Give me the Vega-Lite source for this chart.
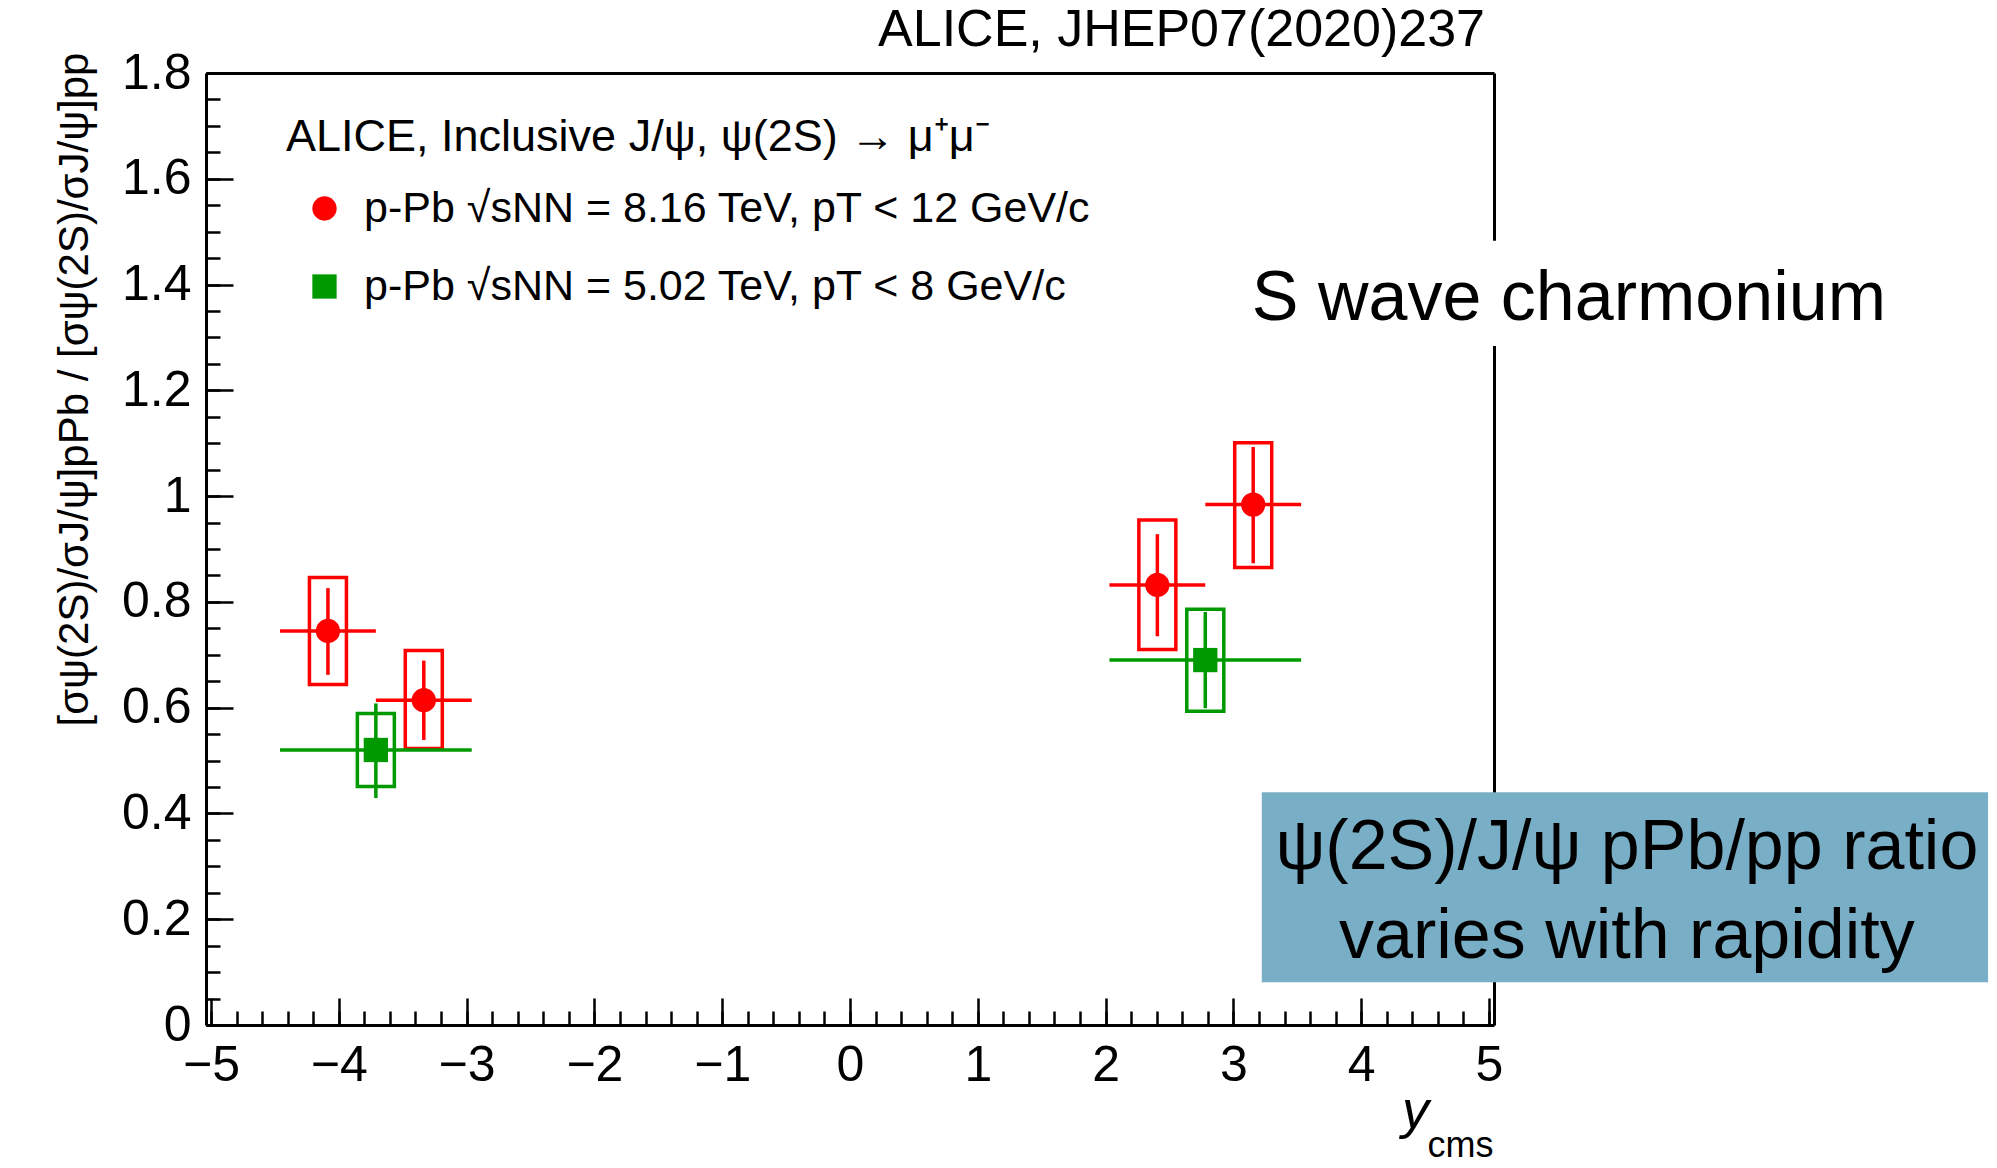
{
  "$schema": "https://vega.github.io/schema/vega-lite/v6.json",
  "width": 1288,
  "height": 952,
  "autosize": {"type": "none"},
  "padding": {"left": 206, "top": 73, "right": 503, "bottom": 143},
  "background": "white",
  "config": {
    "font": "Liberation Sans",
    "view": {"stroke": null},
    "axis": {"zindex": 0, "grid": false}
  },
  "datasets": {
    "ratio": [
      {"series": "p-Pb √sNN = 8.16 TeV, pT < 12 GeV/c", "ycms": -4.085, "ylo": -4.46, "yhi": -3.71, "ratio": 0.745, "statlo": 0.662, "stathi": 0.826, "syslo": 0.644, "syshi": 0.846},
      {"series": "p-Pb √sNN = 8.16 TeV, pT < 12 GeV/c", "ycms": -3.335, "ylo": -3.71, "yhi": -2.96, "ratio": 0.614, "statlo": 0.539, "stathi": 0.689, "syslo": 0.523, "syshi": 0.708},
      {"series": "p-Pb √sNN = 8.16 TeV, pT < 12 GeV/c", "ycms": 2.405, "ylo": 2.03, "yhi": 2.78, "ratio": 0.832, "statlo": 0.735, "stathi": 0.928, "syslo": 0.71, "syshi": 0.955},
      {"series": "p-Pb √sNN = 8.16 TeV, pT < 12 GeV/c", "ycms": 3.155, "ylo": 2.78, "yhi": 3.53, "ratio": 0.984, "statlo": 0.873, "stathi": 1.093, "syslo": 0.865, "syshi": 1.101},
      {"series": "p-Pb √sNN = 5.02 TeV, pT < 8 GeV/c", "ycms": -3.71, "ylo": -4.46, "yhi": -2.96, "ratio": 0.52, "statlo": 0.429, "stathi": 0.608, "syslo": 0.451, "syshi": 0.589},
      {"series": "p-Pb √sNN = 5.02 TeV, pT < 8 GeV/c", "ycms": 2.78, "ylo": 2.03, "yhi": 3.53, "ratio": 0.69, "statlo": 0.599, "stathi": 0.781, "syslo": 0.593, "syshi": 0.786}
    ],
    "boxes": [
      {"role": "headline", "x0": 3.0, "x1": 9.9, "y0": 1.284, "y1": 1.483},
      {"role": "callout", "x0": 3.222, "x1": 8.905, "y0": 0.081, "y1": 0.44}
    ],
    "notes": [
      {"role": "header", "text": "ALICE, JHEP07(2020)237", "ycms": 4.969, "ratio": 1.851},
      {"role": "headline", "text": "S wave charmonium", "ycms": 3.144, "ratio": 1.333},
      {"role": "callout", "text": "ψ(2S)/J/ψ pPb/pp ratio", "ycms": 6.079, "ratio": 0.295},
      {"role": "callout", "text": "varies with rapidity", "ycms": 6.079, "ratio": 0.127}
    ]
  },
  "layer": [
    {
      "data": {"name": "boxes"},
      "transform": [{"filter": "datum.role === 'headline'"}],
      "mark": {"type": "rect", "fill": "white", "stroke": null},
      "encoding": {
        "x": {"field": "x0", "type": "quantitative", "scale": {"domain": [-5, 5], "nice": false, "zero": false}, "axis": null},
        "x2": {"field": "x1"},
        "y": {"field": "y0", "type": "quantitative", "scale": {"domain": [0, 1.8], "nice": false, "zero": false}, "axis": null},
        "y2": {"field": "y1"}
      }
    },
    {
      "data": {"name": "boxes"},
      "transform": [{"filter": "datum.role === 'callout'"}],
      "mark": {"type": "rect", "fill": "#79afc6", "stroke": null},
      "encoding": {
        "x": {"field": "x0", "type": "quantitative", "scale": {"domain": [-5, 5], "nice": false, "zero": false}, "axis": null},
        "x2": {"field": "x1"},
        "y": {"field": "y0", "type": "quantitative", "scale": {"domain": [0, 1.8], "nice": false, "zero": false}, "axis": null},
        "y2": {"field": "y1"}
      }
    },
    {
      "mark": {"type": "rule", "color": "black", "strokeWidth": 3.5, "strokeDash": [9, 7.6]},
      "encoding": {
        "y": {"datum": 1, "type": "quantitative", "scale": {"domain": [0, 1.8], "nice": false, "zero": false}, "axis": null}
      }
    },
    {
      "data": {"name": "ratio"},
      "transform": [{"filter": "datum.series === 'p-Pb √sNN = 8.16 TeV, pT < 12 GeV/c'"}],
      "mark": {"type": "bar", "filled": false, "fill": null, "stroke": "#ff0000", "strokeWidth": 3.5, "width": 37},
      "encoding": {
        "x": {"field": "ycms", "type": "quantitative", "scale": {"domain": [-5, 5], "nice": false, "zero": false},
          "axis": {"orient": "top", "domain": true, "domainColor": "black", "domainWidth": 3, "ticks": false, "labels": false, "title": null, "zindex": 0}},
        "y": {"field": "syslo", "type": "quantitative", "scale": {"domain": [0, 1.8], "nice": false, "zero": false},
          "axis": {"orient": "right", "domain": true, "domainColor": "black", "domainWidth": 3, "ticks": false, "labels": false, "title": null, "zindex": 0}},
        "y2": {"field": "syshi"}
      }
    },
    {
      "data": {"name": "ratio"},
      "transform": [{"filter": "datum.series === 'p-Pb √sNN = 5.02 TeV, pT < 8 GeV/c'"}],
      "mark": {"type": "bar", "filled": false, "fill": null, "stroke": "#009900", "strokeWidth": 3.5, "width": 37},
      "encoding": {
        "x": {"field": "ycms", "type": "quantitative", "scale": {"domain": [-5, 5], "nice": false, "zero": false}, "axis": null},
        "y": {"field": "syslo", "type": "quantitative", "scale": {"domain": [0, 1.8], "nice": false, "zero": false}, "axis": null},
        "y2": {"field": "syshi"}
      }
    },
    {
      "data": {"name": "ratio"},
      "transform": [{"filter": "datum.series === 'p-Pb √sNN = 8.16 TeV, pT < 12 GeV/c'"}],
      "mark": {"type": "rule", "color": "#ff0000", "strokeWidth": 3.5},
      "encoding": {
        "x": {"field": "ylo", "type": "quantitative", "scale": {"domain": [-5, 5], "nice": false, "zero": false},
          "axis": {"orient": "bottom", "domain": false, "labels": false, "ticks": true, "tickSize": -14, "tickWidth": 2.5, "tickColor": "black",
            "values": [-5, -4.8, -4.6, -4.4, -4.2, -4, -3.8, -3.6, -3.4, -3.2, -3, -2.8, -2.6, -2.4, -2.2, -2, -1.8, -1.6, -1.4, -1.2, -1, -0.8, -0.6, -0.4, -0.2, 0, 0.2, 0.4, 0.6, 0.8, 1, 1.2, 1.4, 1.6, 1.8, 2, 2.2, 2.4, 2.6, 2.8, 3, 3.2, 3.4, 3.6, 3.8, 4, 4.2, 4.4, 4.6, 4.8, 5],
            "title": "cms", "titleFont": "Liberation Sans", "titleFontSize": 36, "titleFontWeight": "normal", "titleColor": "black",
            "titleX": 1287, "titleY": 131, "titleAlign": "right", "titleBaseline": "alphabetic", "zindex": 0}},
        "x2": {"field": "yhi"},
        "y": {"field": "ratio", "type": "quantitative", "scale": {"domain": [0, 1.8], "nice": false, "zero": false},
          "axis": {"orient": "left", "domain": false, "labels": false, "ticks": true, "tickSize": -14, "tickWidth": 2.5, "tickColor": "black",
            "values": [0, 0.05, 0.1, 0.15, 0.2, 0.25, 0.3, 0.35, 0.4, 0.45, 0.5, 0.55, 0.6, 0.65, 0.7, 0.75, 0.8, 0.85, 0.9, 0.95, 1, 1.05, 1.1, 1.15, 1.2, 1.25, 1.3, 1.35, 1.4, 1.45, 1.5, 1.55, 1.6, 1.65, 1.7, 1.75, 1.8],
            "title": null, "zindex": 0}}
      }
    },
    {
      "data": {"name": "ratio"},
      "transform": [{"filter": "datum.series === 'p-Pb √sNN = 5.02 TeV, pT < 8 GeV/c'"}],
      "mark": {"type": "rule", "color": "#009900", "strokeWidth": 3.5},
      "encoding": {
        "x": {"field": "ylo", "type": "quantitative", "scale": {"domain": [-5, 5], "nice": false, "zero": false}, "axis": null},
        "x2": {"field": "yhi"},
        "y": {"field": "ratio", "type": "quantitative", "scale": {"domain": [0, 1.8], "nice": false, "zero": false}, "axis": null}
      }
    },
    {
      "data": {"name": "ratio"},
      "transform": [{"filter": "datum.series === 'p-Pb √sNN = 8.16 TeV, pT < 12 GeV/c'"}],
      "mark": {"type": "rule", "color": "#ff0000", "strokeWidth": 3.5},
      "encoding": {
        "x": {"field": "ycms", "type": "quantitative", "scale": {"domain": [-5, 5], "nice": false, "zero": false},
          "axis": {"orient": "bottom", "domain": true, "domainColor": "black", "domainWidth": 3,
            "ticks": true, "tickSize": -27, "tickWidth": 2.5, "tickColor": "black",
            "values": [-5, -4, -3, -2, -1, 0, 1, 2, 3, 4, 5], "format": "d",
            "labelFont": "Liberation Sans", "labelFontSize": 50, "labelColor": "black", "labelPadding": 42, "labelFlush": false, "labelOverlap": false,
            "title": "y", "titleFont": "Liberation Sans", "titleFontSize": 54, "titleFontStyle": "italic", "titleFontWeight": "normal", "titleColor": "black",
            "titleX": 1209, "titleY": 102, "titleAlign": "center", "titleBaseline": "alphabetic", "zindex": 0}},
        "y": {"field": "statlo", "type": "quantitative", "scale": {"domain": [0, 1.8], "nice": false, "zero": false},
          "axis": {"orient": "left", "domain": true, "domainColor": "black", "domainWidth": 3,
            "ticks": true, "tickSize": -27, "tickWidth": 2.5, "tickColor": "black",
            "values": [0, 0.2, 0.4, 0.6, 0.8, 1, 1.2, 1.4, 1.6, 1.8], "format": ".1~f",
            "labelFont": "Liberation Sans", "labelFontSize": 50, "labelColor": "black", "labelPadding": 42, "labelFlush": false, "labelOverlap": false,
            "title": "[σψ(2S)/σJ/ψ]pPb / [σψ(2S)/σJ/ψ]pp", "titleFont": "Liberation Sans", "titleFontSize": 42, "titleFontWeight": "normal", "titleColor": "black",
            "titleX": -119, "titleY": 316, "titleAngle": 270, "titleAlign": "center", "titleBaseline": "alphabetic", "zindex": 0}},
        "y2": {"field": "stathi"}
      }
    },
    {
      "data": {"name": "ratio"},
      "transform": [{"filter": "datum.series === 'p-Pb √sNN = 5.02 TeV, pT < 8 GeV/c'"}],
      "mark": {"type": "rule", "color": "#009900", "strokeWidth": 3.5},
      "encoding": {
        "x": {"field": "ycms", "type": "quantitative", "scale": {"domain": [-5, 5], "nice": false, "zero": false}, "axis": null},
        "y": {"field": "statlo", "type": "quantitative", "scale": {"domain": [0, 1.8], "nice": false, "zero": false}, "axis": null},
        "y2": {"field": "stathi"}
      }
    },
    {
      "data": {"name": "ratio"},
      "mark": {"type": "point", "filled": true, "opacity": 1, "strokeWidth": 0, "size": 590},
      "encoding": {
        "x": {"field": "ycms", "type": "quantitative", "scale": {"domain": [-5, 5], "nice": false, "zero": false}, "axis": null},
        "y": {"field": "ratio", "type": "quantitative", "scale": {"domain": [0, 1.8], "nice": false, "zero": false}, "axis": null},
        "color": {"field": "series", "type": "nominal",
          "scale": {"domain": ["p-Pb √sNN = 8.16 TeV, pT < 12 GeV/c", "p-Pb √sNN = 5.02 TeV, pT < 8 GeV/c"], "range": ["#ff0000", "#009900"]},
          "legend": {
            "title": "ALICE, Inclusive J/ψ, ψ(2S) → μ⁺μ⁻",
            "orient": "none", "legendX": 80, "legendY": 42, "padding": 0,
            "titleFont": "Liberation Sans", "titleFontSize": 45, "titleFontWeight": "normal", "titleColor": "black", "titlePadding": 27, "titleLimit": 1500,
            "labelFont": "Liberation Sans", "labelFontSize": 43, "labelColor": "black", "labelLimit": 1500, "labelOffset": 18,
            "symbolOffset": 17, "symbolSize": 590, "rowPadding": 34, "symbolStrokeWidth": 0, "symbolOpacity": 1
          }},
        "shape": {"field": "series", "type": "nominal",
          "scale": {"domain": ["p-Pb √sNN = 8.16 TeV, pT < 12 GeV/c", "p-Pb √sNN = 5.02 TeV, pT < 8 GeV/c"], "range": ["circle", "square"]}}
      }
    },
    {
      "data": {"name": "notes"},
      "transform": [{"filter": "datum.role === 'header'"}],
      "mark": {"type": "text", "align": "right", "baseline": "alphabetic", "fontSize": 52, "color": "black"},
      "encoding": {
        "x": {"field": "ycms", "type": "quantitative", "scale": {"domain": [-5, 5], "nice": false, "zero": false}, "axis": null},
        "y": {"field": "ratio", "type": "quantitative", "scale": {"domain": [0, 1.8], "nice": false, "zero": false}, "axis": null},
        "text": {"field": "text"}
      }
    },
    {
      "data": {"name": "notes"},
      "transform": [{"filter": "datum.role === 'headline'"}],
      "mark": {"type": "text", "align": "left", "baseline": "alphabetic", "fontSize": 70, "color": "black"},
      "encoding": {
        "x": {"field": "ycms", "type": "quantitative", "scale": {"domain": [-5, 5], "nice": false, "zero": false}, "axis": null},
        "y": {"field": "ratio", "type": "quantitative", "scale": {"domain": [0, 1.8], "nice": false, "zero": false}, "axis": null},
        "text": {"field": "text"}
      }
    },
    {
      "data": {"name": "notes"},
      "transform": [{"filter": "datum.role === 'callout'"}],
      "mark": {"type": "text", "align": "center", "baseline": "alphabetic", "fontSize": 70, "color": "black"},
      "encoding": {
        "x": {"field": "ycms", "type": "quantitative", "scale": {"domain": [-5, 5], "nice": false, "zero": false}, "axis": null},
        "y": {"field": "ratio", "type": "quantitative", "scale": {"domain": [0, 1.8], "nice": false, "zero": false}, "axis": null},
        "text": {"field": "text"}
      }
    }
  ],
  "resolve": {"axis": {"x": "independent", "y": "independent"}}
}
